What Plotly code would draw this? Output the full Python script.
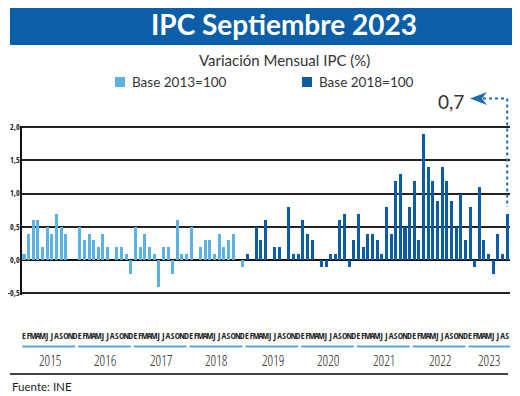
import plotly.graph_objects as go

# ---------------- data ----------------
years = ["2015", "2016", "2017", "2018", "2019", "2020", "2021", "2022", "2023"]
month_letters = ["E", "F", "M", "A", "M", "J", "J", "A", "S", "O", "N", "D"]

base2013 = [
    0.1, 0.4, 0.6, 0.6, 0.2, 0.5, 0.4, 0.7, 0.5, 0.4, 0.0, 0.0,      # 2015
    0.5, 0.3, 0.4, 0.3, 0.2, 0.4, 0.2, 0.0, 0.2, 0.2, 0.1, -0.2,     # 2016
    0.5, 0.2, 0.4, 0.2, 0.1, -0.4, 0.2, 0.2, -0.2, 0.6, 0.1, 0.1,    # 2017
    0.5, 0.0, 0.2, 0.3, 0.3, 0.1, 0.4, 0.2, 0.3, 0.4, 0.0, -0.1,     # 2018
]
base2018 = [
    0.1, 0.0, 0.5, 0.3, 0.6, 0.0, 0.2, 0.2, 0.0, 0.8, 0.1, 0.1,      # 2019
    0.6, 0.4, 0.3, 0.0, -0.1, -0.1, 0.1, 0.1, 0.6, 0.7, -0.1, 0.3,   # 2020
    0.7, 0.2, 0.4, 0.4, 0.3, 0.1, 0.8, 0.4, 1.2, 1.3, 0.5, 0.8,      # 2021
    1.2, 0.3, 1.9, 1.4, 1.2, 0.9, 1.4, 1.2, 0.9, 0.5, 1.0, 0.3,      # 2022
    0.8, -0.1, 1.1, 0.3, 0.1, -0.2, 0.4, 0.1, 0.7,                   # 2023
]
y_ticks = [-0.5, 0.0, 0.5, 1.0, 1.5, 2.0]
y_ticktext = ["-0,5", "0,0", "0,5", "1,0", "1,5", "2,0"]
last_value_label = "0,7"

# ---------------- derived ----------------
n_total = len(base2013) + len(base2018)
x_2013 = list(range(len(base2013)))
x_2018 = list(range(len(base2013), n_total))
tick_text = [month_letters[i % 12] for i in range(n_total)]

# the page body has an 8px default margin: lay out in window pixels and shift
OFF = 8
W, H = 520 - OFF, 396 - OFF
def px(x):
    return (x - OFF) / W
def py(y):
    return 1 - (y - OFF) / H

LIGHT = "#5CB2E3"
DARK = "#0B5CA3"
BAND = "#0D5EA8"
ARROW = "#1D6DB5"
TXT = "#333333"
NARROW = ("Noto Sans ExtraCondensed, Noto Sans Condensed, Open Sans Condensed, "
          "Liberation Sans Narrow, DejaVu Sans Condensed, Roboto Condensed, sans-serif")
NARROW_LIGHT = "Open Sans Condensed Light, " + NARROW

# y axis: slight padding so the -0,5 and 2,0 grid lines are not clipped at the edges
Y_PAD = 0.02
PX_PER_UNIT = (293.3 - 127) / 2.5
y_top_px = 127 - Y_PAD * PX_PER_UNIT
y_bot_px = 293.3 + Y_PAD * PX_PER_UNIT

fig = go.Figure()
fig.add_trace(go.Bar(x=x_2013, y=base2013, name="Base 2013=100", width=0.65,
                     marker=dict(color=LIGHT, line=dict(width=0)), showlegend=False))
fig.add_trace(go.Bar(x=x_2018, y=base2018, name="Base 2018=100", width=0.65,
                     marker=dict(color=DARK, line=dict(width=0)), showlegend=False))

shapes = []
annotations = []

# title band
shapes.append(dict(type="rect", xref="paper", yref="paper", x0=px(10), x1=px(513),
                   y0=py(45), y1=py(3), fillcolor=BAND, line=dict(width=0)))
annotations.append(dict(text="IPC Septiembre 2023", xref="paper", yref="paper", x=px(284), y=py(24),
                        showarrow=False, xanchor="center", yanchor="middle",
                        font=dict(family="Lato", size=28, color="white", weight=700)))
annotations.append(dict(text="Variación Mensual IPC (%)", xref="paper", yref="paper", x=px(284), y=py(60),
                        showarrow=False, xanchor="center", yanchor="middle",
                        font=dict(family="Lato", size=15, color=TXT)))

# manual legend
for (x0, col, label) in [(115, LIGHT, "Base 2013=100"), (302, DARK, "Base 2018=100")]:
    shapes.append(dict(type="rect", xref="paper", yref="paper", x0=px(x0), x1=px(x0 + 10),
                       y0=py(87), y1=py(77), fillcolor=col, line=dict(width=0)))
    annotations.append(dict(text=label, xref="paper", yref="paper", x=px(x0 + 15), y=py(82),
                            showarrow=False, xanchor="left", yanchor="middle",
                            font=dict(family="Lato", size=13.5, color=TXT)))

# last value callout
annotations.append(dict(text=last_value_label, xref="paper", yref="paper", x=px(451), y=py(101),
                        showarrow=False, xanchor="center", yanchor="middle",
                        font=dict(family="Lato", size=19, color=TXT)))
shapes.append(dict(type="path", xref="paper", yref="paper",
                   path=f"M {px(470)},{py(98.5)} L {px(487)},{py(92)} L {px(482)},{py(98.5)} L {px(487)},{py(105)} Z",
                   fillcolor=ARROW, line=dict(width=0)))
shapes.append(dict(type="line", xref="paper", yref="paper", x0=px(483), x1=px(507.3),
                   y0=py(98.5), y1=py(98.5), line=dict(color=ARROW, width=2, dash="dot")))
shapes.append(dict(type="line", xref="x", yref="paper", x0=n_total - 1, x1=n_total - 1,
                   y0=py(98.5), y1=py(207), line=dict(color=ARROW, width=2, dash="dot")))

# year lines and labels
for k, yr in enumerate(years):
    first = k * 12
    last = min(first + 11, n_total - 1)
    x1 = first + 11.0 if last == first + 11 else n_total - 1 + 0.6
    shapes.append(dict(type="line", xref="x", yref="paper", x0=first - 0.35, x1=x1,
                       y0=py(346.5), y1=py(346.5), line=dict(color="#5AA5DC", width=2)))
    annotations.append(dict(text=yr, xref="x", yref="paper", x=(first + last) / 2, y=py(360),
                            showarrow=False, xanchor="center", yanchor="middle",
                            font=dict(family=NARROW_LIGHT, size=14, color="#222")))

# bottom rule + source
shapes.append(dict(type="line", xref="paper", yref="paper", x0=px(10), x1=px(508),
                   y0=py(374), y1=py(374), line=dict(color="#444", width=2)))
annotations.append(dict(text="Fuente: INE", xref="paper", yref="paper", x=px(10), y=py(386),
                        showarrow=False, xanchor="left", yanchor="middle",
                        font=dict(family="Lato", size=11.5, color="#222")))

fig.update_layout(
    template="none",
    width=W, height=H, autosize=False,
    margin=dict(l=0, r=0, t=0, b=0, pad=0),
    paper_bgcolor="white", plot_bgcolor="white",
    bargap=0, barmode="overlay",
    shapes=shapes, annotations=annotations,
    xaxis=dict(domain=[px(22), px(510)], range=[-0.43, 104.6],
               tickmode="array", tickvals=list(range(n_total)), ticktext=tick_text,
               tickangle=0, showgrid=False, zeroline=False, showline=False, ticks="",
               ticklabelstandoff=34,
               tickfont=dict(family=NARROW, size=9, color="#222")),
    yaxis=dict(domain=[py(y_bot_px), py(y_top_px)], range=[-0.5 - Y_PAD, 2.0 + Y_PAD],
               tickmode="array", tickvals=y_ticks, ticktext=y_ticktext,
               showgrid=True, gridcolor="#222222", gridwidth=1.5,
               zeroline=True, zerolinecolor="#111111", zerolinewidth=1.5,
               showline=True, linecolor="#111111", linewidth=1.5, ticks="",
               ticklabelstandoff=-1,
               tickfont=dict(family=NARROW, size=8, color="#222")),
)

fig.write_html("out.html")
